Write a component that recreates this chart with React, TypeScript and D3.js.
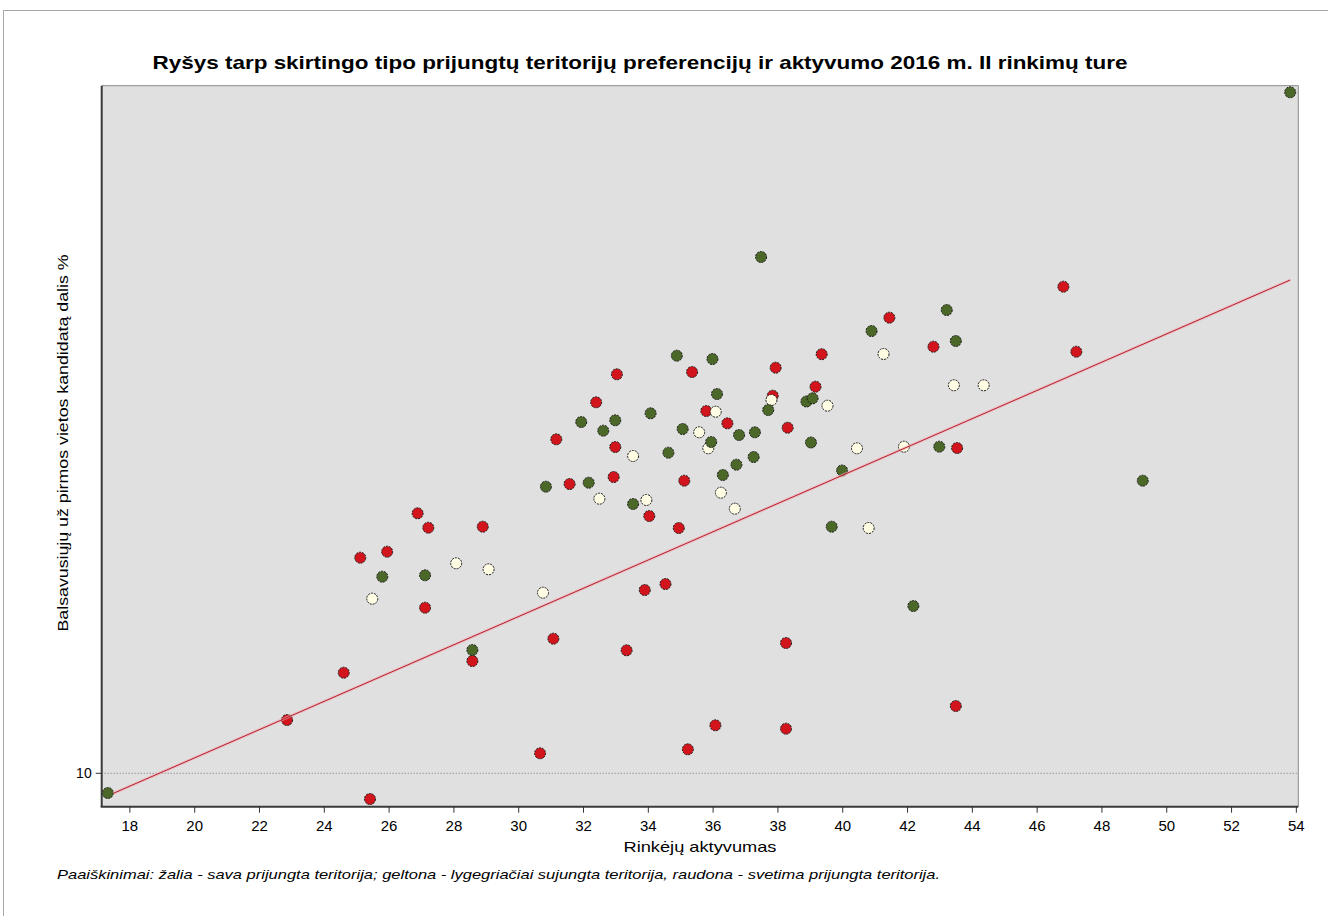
import React from "react";
import * as d3 from "d3";

// Rinkėjų aktyvumas (x) ir balsų dalis % (y), pagal teritorijos tipą
const greenPoints: [number, number][] = [
  [53.81, 78.1], [37.48, 61.63], [43.21, 56.33], [40.89, 54.23], [43.49, 53.23],
  [34.88, 51.76], [35.98, 51.43], [36.12, 47.93], [38.88, 47.18], [39.07, 47.5],
  [37.7, 46.33], [34.07, 46.0], [32.98, 45.3], [31.93, 45.13], [32.61, 44.26],
  [35.06, 44.43], [36.8, 43.83], [37.29, 44.1], [35.94, 43.13], [39.02, 43.08],
  [42.98, 42.66], [34.62, 42.06], [37.25, 41.63], [36.72, 40.86], [39.98, 40.28],
  [36.3, 39.83], [49.26, 39.26], [30.84, 38.66], [32.16, 39.06], [33.53, 36.93],
  [39.66, 34.66], [25.79, 29.66], [27.11, 29.8], [28.57, 22.33], [42.18, 26.73],
  [17.32, 8.03],
];

const yellowPoints: [number, number][] = [
  [36.08, 46.16], [37.8, 47.33], [39.53, 46.76], [41.26, 51.93], [43.43, 48.8],
  [44.35, 48.8], [35.57, 44.1], [35.85, 42.5], [33.53, 41.73], [40.44, 42.5],
  [41.89, 42.66], [36.24, 38.06], [32.49, 37.46], [33.94, 37.33], [36.67, 36.46],
  [40.8, 34.53], [28.07, 31.0], [29.07, 30.4], [25.48, 27.46], [30.75, 28.06],
];

const redPoints: [number, number][] = [
  [46.81, 58.66], [41.44, 55.56], [42.8, 52.66], [47.21, 52.16], [39.35, 51.91],
  [37.93, 50.56], [35.35, 50.13], [33.03, 49.9], [39.16, 48.66], [37.84, 47.76],
  [32.39, 47.1], [35.79, 46.23], [36.44, 45.0], [38.3, 44.56], [31.16, 43.4],
  [32.98, 42.63], [43.53, 42.53], [32.93, 39.63], [35.11, 39.26], [31.57, 38.93],
  [34.03, 35.73], [34.94, 34.53], [26.88, 36.0], [27.21, 34.56], [28.89, 34.66],
  [25.11, 31.56], [25.94, 32.16], [27.11, 26.56], [31.07, 23.46], [33.89, 28.33],
  [34.53, 28.93], [33.33, 22.3], [38.25, 23.03], [28.57, 21.23], [24.6, 20.06],
  [22.85, 15.33], [43.49, 16.73], [36.07, 14.8], [38.25, 14.46], [35.22, 12.4],
  [30.66, 12.0], [25.41, 7.43],
];

const fitLine: [number, number][] = [[17.49, 8.0], [53.81, 59.33]];

const xTicks = d3.range(18, 55, 2);
const yTicks = [10];

const title =
  "Ryšys tarp skirtingo tipo prijungtų teritorijų preferencijų ir aktyvumo 2016 m. II rinkimų ture";
const xTitle = "Rinkėjų aktyvumas";
const yTitle = "Balsavusiųjų už pirmos vietos kandidatą dalis %";
const note =
  "Paaiškinimai: žalia - sava prijungta teritorija; geltona - lygegriačiai sujungta teritorija, raudona - svetima prijungta teritorija.";

const W = 1328;
const H = 916;
const left = 101.7;
const right = 1298.3;
const top = 85.7;
const bottom = 806.7;
const font = "Arial, 'Liberation Sans', sans-serif";

export default function App() {
  const x = d3.scaleLinear().domain([17.13, 54.06]).range([left, right]);
  const y = d3.scaleLinear().domain([6.66, 78.76]).range([bottom, top]);
  const line = d3
    .line<[number, number]>()
    .x((d) => x(d[0]))
    .y((d) => y(d[1]));

  const groups = [
    { pts: redPoints, fill: "#d2151c" },
    { pts: yellowPoints, fill: "#fffde4" },
    { pts: greenPoints, fill: "#4b6828" },
  ];

  return (
    <svg
      width={W}
      height={H}
      style={{ position: "absolute", left: 0, top: 0, background: "#fff" }}
      fontFamily={font}
    >
      <rect x={3.5} y={10.5} width={W} height={H} fill="none" stroke="#a8a8a8" />

      <text
        x={640}
        y={69}
        textAnchor="middle"
        fontSize={19}
        fontWeight="bold"
        textLength={975}
        lengthAdjust="spacingAndGlyphs"
      >
        {title}
      </text>

      {/* plot area */}
      <rect x={left} y={top} width={right - left} height={bottom - top} fill="#e0e0e0" />
      <line x1={left} x2={right} y1={top} y2={top} stroke="#8a8a8a" />
      <line x1={right} x2={right} y1={top} y2={bottom} stroke="#8a8a8a" />

      {yTicks.map((t) => (
        <g key={t}>
          <line
            x1={left}
            x2={right}
            y1={y(t)}
            y2={y(t)}
            stroke="#777"
            strokeDasharray="1,2"
          />
          <line x1={left - 6} x2={left} y1={y(t)} y2={y(t)} stroke="#333" />
          <text x={left - 10} y={y(t) + 5} textAnchor="end" fontSize={14}>
            {t}
          </text>
        </g>
      ))}

      {groups.map((g, gi) => (
        <g key={gi}>
          {g.pts.map((p, i) => (
            <circle
              key={i}
              cx={x(p[0])}
              cy={y(p[1])}
              r={5.5}
              fill={g.fill}
              stroke="#1a1a1a"
              strokeWidth={1}
              strokeDasharray="2,1"
            />
          ))}
        </g>
      ))}

      <path d={line(fitLine) || ""} fill="none" stroke="#f3a9b0" strokeWidth={3} opacity={0.6} />
      <path d={line(fitLine) || ""} fill="none" stroke="#b3202c" strokeWidth={1} />

      {/* axes */}
      <line x1={left} x2={left} y1={top} y2={bottom} stroke="#3a3a3a" strokeWidth={2} />
      <line x1={left - 1} x2={right} y1={bottom} y2={bottom} stroke="#3a3a3a" strokeWidth={2} />
      {xTicks.map((t) => (
        <g key={t}>
          <line x1={x(t)} x2={x(t)} y1={bottom} y2={bottom + 6} stroke="#333" />
          <text x={x(t)} y={831} textAnchor="middle" fontSize={15}>
            {t}
          </text>
        </g>
      ))}

      <text x={700} y={852} textAnchor="middle" fontSize={15} textLength={153} lengthAdjust="spacingAndGlyphs">
        {xTitle}
      </text>
      <text
        transform="translate(68,443) rotate(-90)"
        textAnchor="middle"
        fontSize={15}
        textLength={377}
        lengthAdjust="spacingAndGlyphs"
      >
        {yTitle}
      </text>
      <text
        x={57}
        y={879}
        fontSize={13}
        fontStyle="italic"
        textLength={883}
        lengthAdjust="spacingAndGlyphs"
      >
        {note}
      </text>
    </svg>
  );
}
